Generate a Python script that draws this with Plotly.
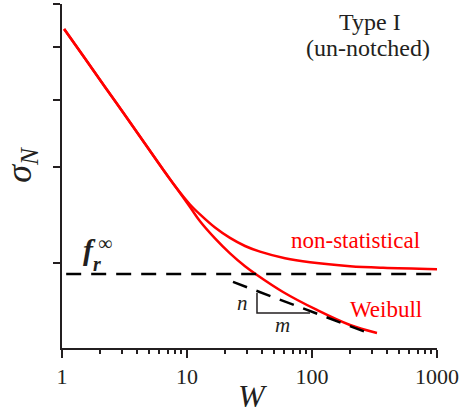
import numpy as np
import plotly.graph_objects as go

# ---- data ----
W_common = [1.04, 1.528, 2.208, 3.311, 4.875, 6.31, 8.017]
sigma_common = [5.396, 4.76, 4.22, 3.70, 3.258, 2.993, 2.773]

W_nonstat_tail = [10.57, 12.71, 16.75, 22.08, 29.11, 38.37, 60.81, 96.38, 201.4, 369.8, 1000]
sigma_nonstat_tail = [2.564, 2.458, 2.325, 2.225, 2.150, 2.099, 2.041, 2.006, 1.973, 1.960, 1.949]

W_weibull_tail = [10.57, 12.71, 16.75, 22.08, 29.11, 36.31, 58.61, 109.6, 201.4, 331.1]
sigma_weibull_tail = [2.537, 2.388, 2.221, 2.084, 1.973, 1.901, 1.769, 1.639, 1.538, 1.487]

W_fr = [1.08, 1000]
sigma_fr = [1.909, 1.909]

W_asym = [23.33, 280.5]
sigma_asym = [1.846, 1.487]

W_tri = [36.3, 36.3, 96.4]
sigma_tri = [1.762, 1.618, 1.618]

x_tickvals = [1, 10, 100, 1000]
x_ticktext = ["1", "10", "100", "1000"]
x_minor = [m * d for d in (1, 10, 100) for m in range(2, 10)]
y_tickvals = [2, 3, 4, 5, 6]

SERIF = "Liberation Serif"
INK = "#231f20"
RED = "#ff0000"
DASH = "15px,10px"

W_nonstat = W_common + W_nonstat_tail
sigma_nonstat = sigma_common + sigma_nonstat_tail
W_weibull = W_common + W_weibull_tail
sigma_weibull = sigma_common + sigma_weibull_tail

fig = go.Figure()
for xs, ys in ((W_nonstat, sigma_nonstat), (W_weibull, sigma_weibull)):
    fig.add_trace(go.Scatter(x=xs, y=ys, mode="lines",
                             line=dict(color=RED, width=2.5, shape="spline", smoothing=1.0),
                             showlegend=False, hoverinfo="skip"))
fig.add_trace(go.Scatter(x=W_fr, y=sigma_fr, mode="lines",
                         line=dict(color="black", width=2.5, dash=DASH),
                         showlegend=False, hoverinfo="skip"))
fig.add_trace(go.Scatter(x=W_asym, y=sigma_asym, mode="lines",
                         line=dict(color="black", width=2.5, dash=DASH),
                         showlegend=False, hoverinfo="skip"))
fig.add_trace(go.Scatter(x=W_tri, y=sigma_tri, mode="lines",
                         line=dict(color=INK, width=1.5),
                         showlegend=False, hoverinfo="skip"))

fig.update_layout(
    width=463, height=418,
    margin=dict(l=62, r=26, t=4, b=70),
    paper_bgcolor="white", plot_bgcolor="white",
    font=dict(family=SERIF, color=INK, size=22),
    xaxis=dict(
        type="log", range=[0, 3], automargin=False,
        tickvals=x_tickvals, ticktext=x_ticktext,
        ticks="outside", ticklen=8, tickwidth=2, tickcolor=INK,
        showline=True, linewidth=2, linecolor=INK, mirror=False,
        showgrid=False, zeroline=False,
        tickfont=dict(size=22, family=SERIF, color=INK),
        minor=dict(tickvals=x_minor, ticks="outside", ticklen=4,
                   tickwidth=1.5, tickcolor=INK, showgrid=False),
    ),
    yaxis=dict(
        type="log", range=[np.log10(1.395), np.log10(6)], automargin=False,
        tickvals=y_tickvals, showticklabels=False,
        ticks="outside", ticklen=7, tickwidth=2, tickcolor=INK,
        showline=True, linewidth=2, linecolor=INK, mirror=False,
        showgrid=False, zeroline=False,
    ),
)

def ann(text, x, y, size=23, color=INK, xref="x", yref="y", **kw):
    fig.add_annotation(text=text, x=x, y=y, xref=xref, yref=yref,
                       showarrow=False, font=dict(size=size, family=SERIF, color=color),
                       xanchor="center", yanchor="middle", **kw)

# axis titles
ann("<i>W</i>", 0.509, -0.1395, size=32, xref="paper", yref="paper")
ann("<i>σ</i><sub><i>N</i></sub>", -0.107, 0.532, size=36, xref="paper", yref="paper",
    textangle=-90)

ann("Type I", 0.821, 0.948, size=24, xref="paper", yref="paper")
ann("(un-notched)", 0.816, 0.872, size=24, xref="paper", yref="paper")
ann("non-statistical", np.log10(221), np.log10(2.20), color=RED)
ann("Weibull", np.log10(391), np.log10(1.64), color=RED)
ann("<i>n</i>", np.log10(28), np.log10(1.69), size=21)
ann("<i>m</i>", np.log10(58.6), np.log10(1.54), size=21)
ann("<b><i>f</i></b>", np.log10(1.65), np.log10(2.12), size=30)
ann("<b><i>r</i></b>", np.log10(1.89), np.log10(1.99), size=20)
ann("∞", np.log10(2.2), np.log10(2.18), size=20)

fig.write_html("out.html", config={"displayModeBar": False},
               post_script="document.body.style.margin='0px';")
